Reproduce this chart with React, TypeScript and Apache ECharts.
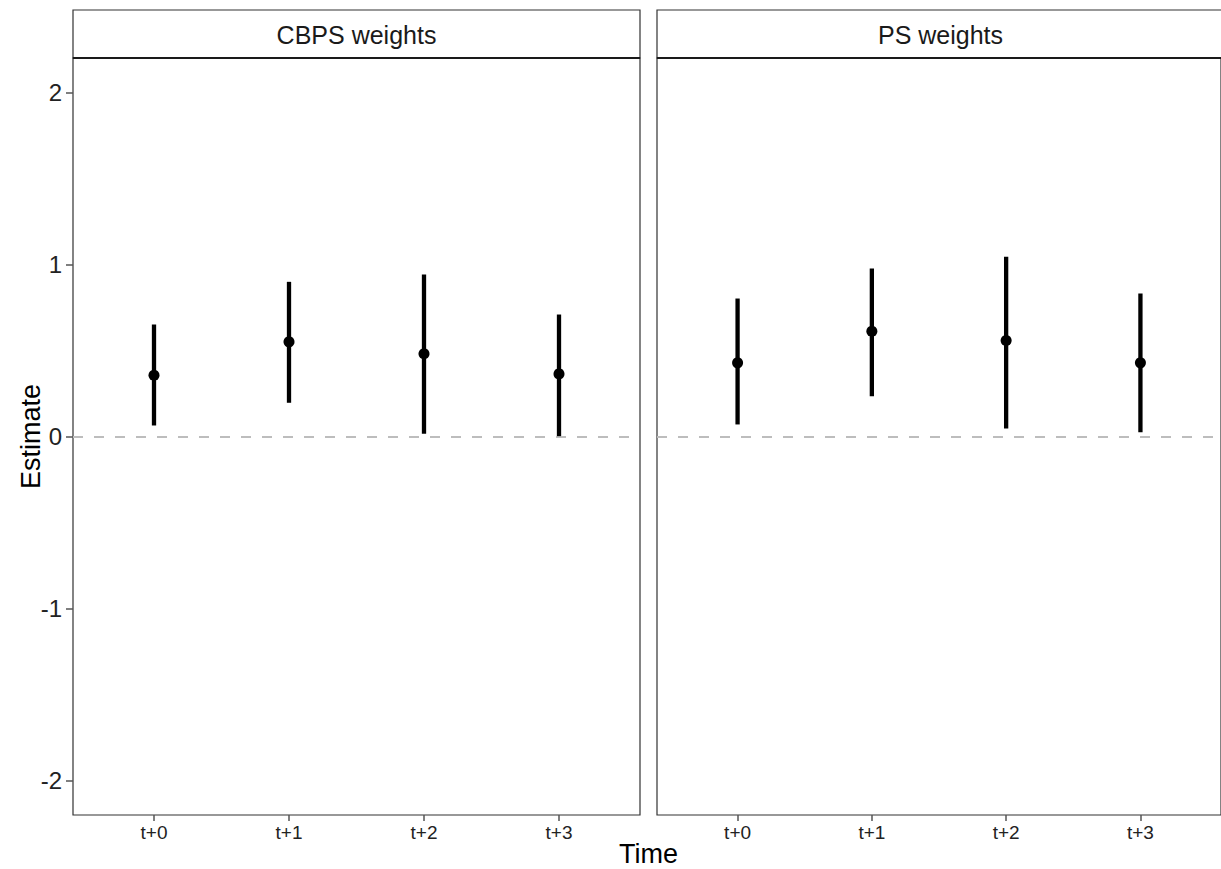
import React, { useEffect, useRef } from "react";
import * as echarts from "echarts";

const categories = ["t+0", "t+1", "t+2", "t+3"];
const panels = ["CBPS weights", "PS weights"];
const cbpsEst = [0.356, 0.55, 0.481, 0.364];
const cbpsLow = [0.064, 0.196, 0.016, 0.002];
const cbpsHigh = [0.651, 0.899, 0.942, 0.709];
const psEst = [0.428, 0.612, 0.558, 0.428];
const psLow = [0.07, 0.234, 0.047, 0.025];
const psHigh = [0.802, 0.977, 1.045, 0.831];
const yTicks = [-2, -1, 0, 1, 2];
const xPositions = [1, 2, 3, 4];

const FONT = "'Liberation Sans', Arial, Helvetica, sans-serif";

export default function App() {
  const ref = useRef<HTMLDivElement>(null);

  useEffect(() => {
    document.body.style.margin = "0";
    if (!ref.current) return;
    const chart = echarts.init(ref.current, null, { renderer: "svg" });

    const panelLeft = [73, 657];
    const panelWidth = 567;
    const panelTop = 58;
    const panelHeight = 757;
    const stripTop = 10;

    const est = [cbpsEst, psEst];
    const low = [cbpsLow, psLow];
    const high = [cbpsHigh, psHigh];

    const grids = panelLeft.map((l) => ({
      left: l,
      top: panelTop,
      width: panelWidth,
      height: panelHeight,
      show: true,
      borderColor: "#333",
      borderWidth: 1.2,
      backgroundColor: "transparent",
    }));

    const xAxes = panelLeft.map((_, i) => ({
      type: "value",
      gridIndex: i,
      position: "bottom",
      min: 0.4,
      max: 4.6,
      axisLine: { show: false, onZero: false },
      splitLine: { show: false },
      axisTick: {
        show: true,
        inside: false,
        length: 6,
        customValues: xPositions,
        lineStyle: { color: "#555", width: 1.5 },
      },
      axisLabel: {
        customValues: xPositions,
        formatter: (v: number) => categories[Math.round(v) - 1] ?? "",
        fontFamily: FONT,
        fontSize: 19,
        color: "#222",
        margin: 8,
      },
    }));

    const yAxes = panelLeft.map((_, i) => ({
      type: "value",
      gridIndex: i,
      position: "left",
      min: -2.2,
      max: 2.2,
      axisLine: { show: false, onZero: false },
      splitLine: { show: false },
      axisTick: {
        show: i === 0,
        inside: false,
        length: 7,
        customValues: yTicks,
        lineStyle: { color: "#555", width: 1.5 },
      },
      axisLabel: {
        show: i === 0,
        customValues: yTicks,
        formatter: (v: number) => String(v),
        fontFamily: FONT,
        fontSize: 24,
        color: "#222",
        margin: 11,
      },
    }));

    const series: any[] = [];
    panelLeft.forEach((_, i) => {
      series.push({
        type: "custom",
        xAxisIndex: i,
        yAxisIndex: i,
        z: 3,
        data: xPositions.map((x, k) => [x, low[i][k], high[i][k]]),
        encode: { x: 0, y: [1, 2] },
        renderItem: (params: any, api: any) => {
          const x = api.value(0);
          const p1 = api.coord([x, api.value(1)]);
          const p2 = api.coord([x, api.value(2)]);
          return {
            type: "line",
            shape: { x1: p1[0], y1: p1[1], x2: p2[0], y2: p2[1] },
            style: { stroke: "#000", lineWidth: 4.3 },
          };
        },
      });
      series.push({
        type: "scatter",
        xAxisIndex: i,
        yAxisIndex: i,
        z: 4,
        symbol: "circle",
        symbolSize: 11,
        itemStyle: { color: "#000", opacity: 1 },
        data: xPositions.map((x, k) => [x, est[i][k]]),
        markLine: {
          silent: true,
          symbol: "none",
          label: { show: false },
          lineStyle: { color: "#bdbdbd", width: 2, type: [10, 11], opacity: 1 },
          data: [{ yAxis: 0 }],
          z: 1,
        },
      });
    });

    const graphic: any[] = [];
    panelLeft.forEach((l, i) => {
      graphic.push({
        type: "rect",
        shape: { x: l, y: stripTop, width: panelWidth, height: panelTop - stripTop },
        style: { fill: "#fff", stroke: "#333", lineWidth: 1.2 },
        z: 10,
      });
      graphic.push({
        type: "line",
        shape: { x1: l, y1: panelTop, x2: l + panelWidth, y2: panelTop },
        style: { stroke: "#1a1a1a", lineWidth: 2 },
        z: 11,
      });
      graphic.push({
        type: "text",
        x: l + panelWidth / 2,
        y: (stripTop + panelTop) / 2 + 1,
        style: {
          text: panels[i],
          fontFamily: FONT,
          fontSize: 25,
          fill: "#1a1a1a",
          align: "center",
          verticalAlign: "middle",
        },
        z: 12,
      });
    });
    graphic.push({
      type: "text",
      x: (73 + 1224) / 2,
      y: 854,
      style: {
        text: "Time",
        fontFamily: FONT,
        fontSize: 27,
        fill: "#000",
        align: "center",
        verticalAlign: "middle",
      },
    });
    graphic.push({
      type: "text",
      x: 31,
      y: panelTop + panelHeight / 2,
      rotation: Math.PI / 2,
      style: {
        text: "Estimate",
        fontFamily: FONT,
        fontSize: 27,
        fill: "#000",
        align: "center",
        verticalAlign: "middle",
      },
    });

    chart.setOption({
      animation: false,
      backgroundColor: "#fff",
      grid: grids,
      xAxis: xAxes,
      yAxis: yAxes,
      series,
      graphic,
    });

    return () => chart.dispose();
  }, []);

  return <div ref={ref} style={{ width: 1221, height: 869 }} />;
}
